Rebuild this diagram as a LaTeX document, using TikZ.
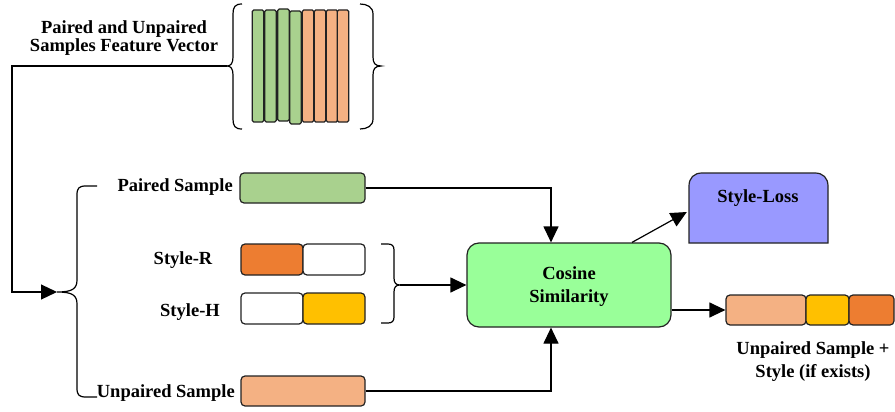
\documentclass[tikz,border=0pt]{standalone}
\usepackage{fontspec}
\setmainfont{Liberation Serif}
\usetikzlibrary{arrows.meta}
\definecolor{pgreen}{HTML}{A9D18E}
\definecolor{porange}{HTML}{F4B183}
\definecolor{dorange}{HTML}{ED7D31}
\definecolor{pyellow}{HTML}{FFC000}
\definecolor{cosgreen}{HTML}{99FF99}
\definecolor{losspurple}{HTML}{9999FF}
\definecolor{edge}{HTML}{222222}
\tikzset{
  box/.style={draw=edge, line width=1.2pt, rounded corners=4pt, inner sep=0pt},
  bar/.style={draw=edge, line width=1.1pt, rounded corners=1.5pt, inner sep=0pt, minimum width=11.5pt},
  lbl/.style={font=\fontsize{18.5}{17}\selectfont\bfseries, inner sep=0pt, text=black},
  conn/.style={draw=black, line width=1.2pt},
  arr/.style={conn, -{Triangle[length=16pt,width=15pt]}},
  brace/.style={draw=black, line width=1.2pt}
}
\begin{document}
\begin{tikzpicture}[x=1pt,y=-1pt]
\useasboundingbox (0,0) rectangle (895,412);

% top label
\node[lbl, anchor=base] (t1) at (124,34) {Paired and Unpaired};
\node[lbl, anchor=base] (t2) at (124,52) {Samples Feature Vector};

% feature bars
\node[bar, fill=pgreen, minimum height=112pt] (b1) at (258,66) {};
\node[bar, fill=pgreen, minimum height=112pt] (b2) at (270.5,66) {};
\node[bar, fill=pgreen, minimum height=112pt] (b3) at (283.5,65) {};
\node[bar, fill=pgreen, minimum height=113pt] (b4) at (295.5,67.5) {};
\node[bar, fill=porange, minimum height=112pt] (b5) at (308,66) {};
\node[bar, fill=porange, minimum height=112pt] (b6) at (320,66) {};
\node[bar, fill=porange, minimum height=112pt] (b7) at (332,66) {};
\node[bar, fill=porange, minimum height=112pt] (b8) at (343,66) {};

% braces around feature vector
\coordinate (fb) at (227,66);
\draw[brace] (242,4) .. controls (235,4) and (233,7) .. (233,14) -- (233,57)
  .. controls (233,63) and (231,66) .. (fb)
  .. controls (231,66) and (233,69) .. (233,75) -- (233,119)
  .. controls (233,126) and (235,129) .. (242,129);
\draw[brace] (360,4) .. controls (367,4) and (373,7) .. (373,14) -- (373,57)
  .. controls (373,63) and (375,66) .. (381,66)
  .. controls (375,66) and (373,69) .. (373,75) -- (373,119)
  .. controls (373,126) and (367,129) .. (360,129);

% path from feature brace to big brace
\coordinate (c1) at (12,66);
\coordinate (c2) at (12,292);
\coordinate (bb) at (57,292);
\draw[arr] (fb) -- (c1) -- (c2) -- (bb);

% big brace
\draw[brace] (97,186) -- (86,186) .. controls (79,186) and (77,188) .. (77,195) -- (77,280)
  .. controls (77,289) and (72,292) .. (bb)
  .. controls (72,292) and (77,295) .. (77,304) -- (77,388)
  .. controls (77,395) and (79,397) .. (86,397) -- (97,397);

% labels
\node[lbl, anchor=base east] (lps) at (233,191) {Paired Sample};
\node[lbl, anchor=base] (lsr) at (183,264) {Style-R};
\node[lbl, anchor=base] (lsh) at (190,316) {Style-H};
\node[lbl, anchor=base east] (lus) at (235,397) {Unpaired Sample};

% sample boxes
\node[box, fill=pgreen, minimum width=125pt, minimum height=30pt] (ps) at (302.5,188) {};
\node[box, fill=dorange, minimum width=62pt, minimum height=31pt] (sr1) at (272,259.5) {};
\node[box, fill=white, minimum width=62pt, minimum height=31pt] (sr2) at (334,259.5) {};
\node[box, fill=white, minimum width=62pt, minimum height=31pt] (sh1) at (272,308.5) {};
\node[box, fill=pyellow, minimum width=62pt, minimum height=31pt] (sh2) at (334,308.5) {};
\node[box, fill=porange, minimum width=124pt, minimum height=30pt] (us) at (303,391) {};

% style bracket
\coordinate (sb) at (400,285);
\draw[brace] (381,244) -- (388,244) .. controls (392,244) and (394,246) .. (394,250) -- (394,278)
  .. controls (394,283) and (396,285) .. (sb)
  .. controls (396,285) and (394,287) .. (394,292) -- (394,317)
  .. controls (394,321) and (392,323) .. (388,323) -- (381,323);

% cosine similarity
\node[box, fill=cosgreen, rounded corners=12pt, minimum width=204pt, minimum height=84pt] (cs) at (569,285) {};
\node[lbl, anchor=base] (cst1) at (569,279) {Cosine};
\node[lbl, anchor=base] (cst2) at (569,302) {Similarity};

% style loss
\draw[draw=edge, line width=1.2pt, fill=losspurple] (689,243) -- (689,186)
  .. controls (689,178) and (694,173) .. (702,173) -- (815,173)
  .. controls (823,173) and (828,178) .. (828,186) -- (828,243) -- cycle;
\node[minimum width=139pt, minimum height=70pt, inner sep=0pt] (sl) at (758.5,208) {};
\node[lbl, anchor=base] (slt) at (758,202) {Style-Loss};

% output boxes
\node[box, fill=porange, minimum width=80pt, minimum height=30pt] (o1) at (766,310) {};
\node[box, fill=pyellow, minimum width=43pt, minimum height=30pt] (o2) at (827.5,310) {};
\node[box, fill=dorange, minimum width=45pt, minimum height=30pt] (o3) at (871.5,310) {};
\node[lbl, anchor=base] (ot1) at (813,354) {Unpaired Sample +};
\node[lbl, anchor=base] (ot2) at (813,377) {Style (if exists)};

% connectors
\draw[arr] (ps.east) -| ([xshift=-18pt]cs.north);
\draw[arr] (us.east) -| ([xshift=-18pt]cs.south);
\draw[arr] (sb) -- (cs.west);
\draw[arr] ([xshift=63pt]cs.north) -- ([xshift=-2pt,yshift=-4pt]sl.west);
\draw[arr] ([yshift=-25pt]cs.east) -- (o1.west);
\end{tikzpicture}
\end{document}
